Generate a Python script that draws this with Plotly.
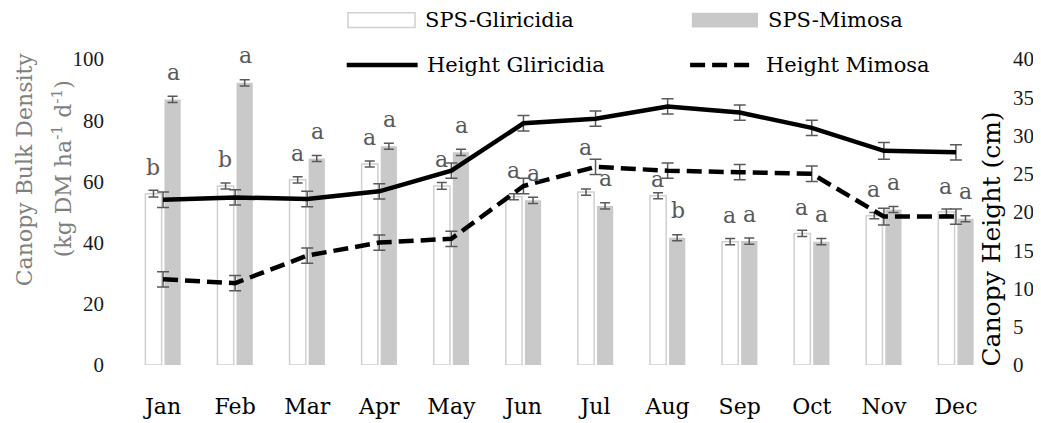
import plotly.graph_objects as go

months = ["Jan", "Feb", "Mar", "Apr", "May", "Jun", "Jul", "Aug", "Sep", "Oct", "Nov", "Dec"]

sps_gliricidia = [56.0, 58.5, 60.5, 65.7, 58.5, 55.0, 56.5, 55.3, 40.3, 43.0, 48.8, 50.0]
sps_gliricidia_err = [1.1, 1.0, 1.0, 1.0, 1.1, 1.0, 1.0, 1.0, 1.0, 1.0, 1.0, 1.0]
sps_mimosa = [86.8, 92.2, 67.5, 71.5, 69.5, 53.8, 52.0, 41.6, 40.5, 40.3, 50.8, 47.8]
sps_mimosa_err = [1.0, 1.0, 1.0, 1.0, 1.0, 1.0, 1.0, 1.0, 1.0, 1.0, 1.0, 1.0]

height_gliricidia = [21.6, 21.9, 21.7, 22.7, 25.4, 31.6, 32.2, 33.8, 33.0, 31.0, 28.0, 27.8]
height_gliricidia_err = [1.0, 1.0, 1.0, 1.0, 1.0, 1.0, 1.0, 1.0, 1.0, 1.0, 1.1, 1.0]
height_mimosa = [11.2, 10.7, 14.3, 16.0, 16.5, 23.4, 25.9, 25.4, 25.2, 25.0, 19.4, 19.4]
height_mimosa_err = [1.0, 1.0, 1.0, 1.0, 1.0, 1.0, 1.0, 1.0, 1.0, 1.0, 1.1, 1.0]

letters_gliricidia = ["b", "b", "a", "a", "a", "a", "a", "a", "a", "a", "a", "a"]
letters_mimosa = ["a", "a", "a", "a", "a", "a", "a", "b", "a", "a", "a", "a"]

series_names = ["SPS-Gliricidia", "SPS-Mimosa", "Height Gliricidia", "Height Mimosa"]

SERIF = "DejaVu Serif"
NUMF = "Liberation Serif"
ERR_C = "#595959"
BAR_GREY = "#c9c9c9"

fig = go.Figure()

fig.add_trace(go.Bar(
    x=months, y=sps_gliricidia, name=series_names[0],
    marker=dict(color="white", line=dict(color="#d0d0d0", width=1.5)),
    error_y=dict(type="data", array=sps_gliricidia_err, color=ERR_C, thickness=1.5, width=5),
    showlegend=False,
))
fig.add_trace(go.Bar(
    x=months, y=sps_mimosa, name=series_names[1],
    marker=dict(color=BAR_GREY, line=dict(width=0)),
    error_y=dict(type="data", array=sps_mimosa_err, color=ERR_C, thickness=1.5, width=5),
    showlegend=False,
))
fig.add_trace(go.Scatter(
    x=months, y=height_gliricidia, name=series_names[2], yaxis="y2", mode="lines",
    line=dict(color="black", width=4.5),
    error_y=dict(type="data", array=height_gliricidia_err, color=ERR_C, thickness=1.5, width=6),
    showlegend=False,
))
fig.add_trace(go.Scatter(
    x=months, y=height_mimosa, name=series_names[3], yaxis="y2", mode="lines",
    line=dict(color="black", width=4.5, dash="15px,7px"),
    error_y=dict(type="data", array=height_mimosa_err, color=ERR_C, thickness=1.5, width=6),
    showlegend=False,
))

# significance letters above bars
extra_shift_glir = {6: 19, 7: -10}
annotations = []
for i, m in enumerate(months):
    annotations.append(dict(
        x=m, y=sps_gliricidia[i], xref="x", yref="y", text=letters_gliricidia[i],
        showarrow=False, xanchor="center", yanchor="middle",
        xshift=-10, yshift=26 + extra_shift_glir.get(i, 0),
        font=dict(family=SERIF, size=22, color=ERR_C),
    ))
    annotations.append(dict(
        x=m, y=sps_mimosa[i], xref="x", yref="y", text=letters_mimosa[i],
        showarrow=False, xanchor="center", yanchor="middle", xshift=10, yshift=27,
        font=dict(family=SERIF, size=22, color=ERR_C),
    ))

# axis titles
annotations.append(dict(
    x=-0.119, y=0.64, xref="paper", yref="paper", text="Canopy Bulk Density",
    xanchor="center", yanchor="middle",
    textangle=-90, showarrow=False, font=dict(family=SERIF, size=22, color="#7f7f7f"),
))
annotations.append(dict(
    x=-0.075, y=0.64, xref="paper", yref="paper",
    text="(kg DM ha<sup>-1</sup> d<sup>-1</sup>)",
    xanchor="center", yanchor="middle",
    textangle=-90, showarrow=False, font=dict(family=SERIF, size=22, color="#7f7f7f"),
))
annotations.append(dict(
    x=1.0, y=0.41, xref="paper", yref="paper", text="Canopy Height (cm)",
    xanchor="center", yanchor="middle",
    textangle=-90, showarrow=False, font=dict(family=SERIF, size=25, color="black"),
))

# legend (manual, two rows)
shapes = []
leg = [
    (0.2555, 0.333, 1.127, "box_w", series_names[0]),
    (0.653, 0.7295, 1.127, "box_g", series_names[1]),
    (0.254, 0.336, 0.980, "solid", series_names[2]),
    (0.651, 0.727, 0.980, "dash", series_names[3]),
]
for x0, x1, yc, kind, name in leg:
    if kind == "box_w":
        shapes.append(dict(type="rect", xref="paper", yref="paper", x0=x0, x1=x1,
                           y0=yc - 0.024, y1=yc + 0.024, fillcolor="white",
                           line=dict(color="#d0d0d0", width=1.5)))
    elif kind == "box_g":
        shapes.append(dict(type="rect", xref="paper", yref="paper", x0=x0, x1=x1,
                           y0=yc - 0.024, y1=yc + 0.024, fillcolor=BAR_GREY,
                           line=dict(width=0)))
    elif kind == "solid":
        shapes.append(dict(type="line", xref="paper", yref="paper", x0=x0, x1=x1,
                           y0=yc, y1=yc, line=dict(color="black", width=4.5)))
    else:
        shapes.append(dict(type="line", xref="paper", yref="paper", x0=x0, x1=x1,
                           y0=yc, y1=yc, line=dict(color="black", width=4.5, dash="15px,7px")))
    annotations.append(dict(
        x=x1 + 0.009, y=yc, xref="paper", yref="paper", text=name, showarrow=False,
        xanchor="left", yanchor="middle", font=dict(family=SERIF, size=21, color="black"),
    ))

# The page body adds an 8px offset, so the figure is sized to stay fully visible.
fig.update_layout(
    width=1033, height=415,
    margin=dict(l=119, r=49, t=51, b=58, autoexpand=False),
    paper_bgcolor="white", plot_bgcolor="white",
    barmode="group", bargap=0.47, bargroupgap=0.15,
    showlegend=False,
    xaxis=dict(showgrid=False, zeroline=False, showline=False, ticks="", automargin=False,
               range=[-0.5, len(months) - 0.5],
               tickfont=dict(family=SERIF, size=22, color="black"),
               ticklabelstandoff=26),
    yaxis=dict(range=[0, 100], dtick=20, showgrid=False, zeroline=False, showline=False,
               ticks="", automargin=False, tickfont=dict(family=NUMF, size=21, color="#1a1a1a"),
               ticklabelstandoff=22),
    yaxis2=dict(range=[0, 40], dtick=5, overlaying="y", side="right", showgrid=False,
                zeroline=False, showline=False, ticks="", automargin=False,
                tickfont=dict(family=NUMF, size=21, color="#1a1a1a"),
                ticklabelstandoff=20),
    annotations=annotations,
    shapes=shapes,
)

fig.write_html("out.html")
